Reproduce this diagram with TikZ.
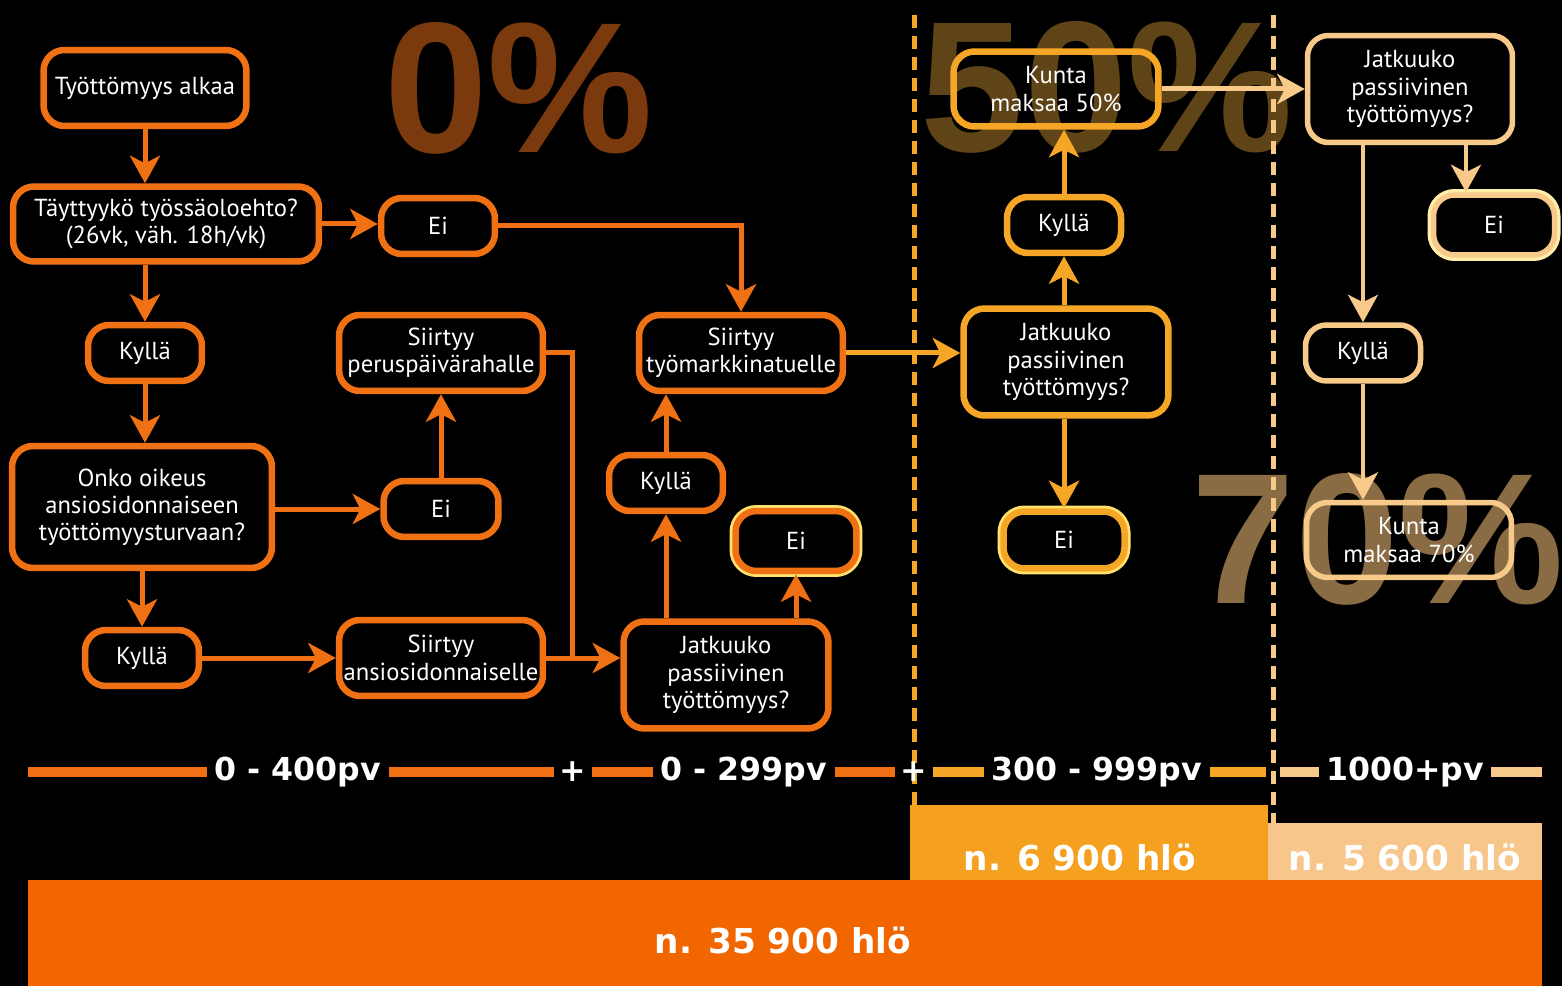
\documentclass[tikz,border=0pt]{standalone}
\usepackage{fontspec}
\setmainfont{PT Sans}
\newfontfamily\barfont{DejaVu Sans}
\newfontfamily\bigfont{Liberation Sans}
\usetikzlibrary{arrows.meta}
\definecolor{ora}{RGB}{240,112,20}
\definecolor{amb}{RGB}{246,166,38}
\definecolor{lgt}{RGB}{248,202,138}
\definecolor{barora}{RGB}{242,102,0}
\definecolor{baramb}{RGB}{245,160,31}
\definecolor{barlgt}{RGB}{247,198,138}
\definecolor{pctzero}{RGB}{122,58,14}
\definecolor{pctfifty}{RGB}{94,68,22}
\definecolor{pctseventy}{RGB}{138,108,68}
\definecolor{glowy}{RGB}{255,226,110}
\definecolor{glowl}{RGB}{255,238,170}
\begin{document}
\begin{tikzpicture}[x=0.02cm,y=-0.02cm,
	box/.style={draw=ora, line width=0.13cm, rounded corners=0.42cm, text=white, align=center,
		font=\fontsize{14}{15.5}\selectfont, inner sep=0pt},
	ambbox/.style={box, draw=amb},
	lgtbox/.style={box, draw=lgt, line width=0.11cm},
	wide/.style={minimum width=4.08cm, minimum height=1.52cm},
	tall/.style={minimum width=4.1cm, minimum height=2.14cm},
	small/.style={minimum width=2.28cm, minimum height=1.12cm},
	glow/.style={fill=black, preaction={draw=#1, line width=0.24cm}, minimum width=2.42cm, minimum height=1.2cm},
	arr/.style={draw=ora, line width=0.1cm, -{Stealth[length=0.55cm, width=0.6cm, inset=0.15cm]}},
	conn/.style={draw=ora, line width=0.1cm},
	sep/.style={line width=0.1cm, dash pattern=on 0.26cm off 0.16cm},
	tl/.style={line width=0.2cm},
	tltext/.style={text=white, font=\barfont\bfseries\fontsize{18}{20}\selectfont, inner sep=0.14cm},
	bartext/.style={text=white, font=\barfont\bfseries\fontsize{19.5}{22}\selectfont},
	pct/.style={anchor=base, font=\bigfont\bfseries\fontsize{106}{114}\selectfont}]
	\fill [black] (0,0) rectangle (1562,986);
	\useasboundingbox (0,0) rectangle (1562,986);

	\node [pct, text=pctzero] (p0) at (519,153) {0\%};
	\node [pct, text=pctfifty] (p50) at (1107,152) {50\%};
	\node [pct, text=pctseventy] (p70) at (1378,603) {70\%};

	\coordinate (s1a) at (914,15);
	\coordinate (s1b) at (914,805);
	\coordinate (s2a) at (1273,15);
	\coordinate (s2b) at (1273,823);
	\draw [sep, amb] (s1a) -- (s1b);
	\draw [sep, lgt] (s2a) -- (s2b);

	\node [box, minimum width=4.06cm, minimum height=1.52cm] (alkaa) at (145,88) {Työttömyys alkaa};
	\node [box, minimum width=6.12cm, minimum height=1.5cm] (ehto) at (166,224) {Täyttyykö työssäoloehto?\\(26vk, väh. 18h/vk)};
	\node [box, small] (ei1) at (438,226) {Ei};
	\node [box, small] (kylla1) at (145,353) {Kyllä};
	\node [box, minimum width=5.2cm, minimum height=2.44cm] (oikeus) at (142,507) {Onko oikeus\\ansiosidonnaiseen\\työttömyysturvaan?};
	\node [box, small, minimum width=2.3cm] (ei2) at (441,509) {Ei};
	\node [box, wide] (perus) at (441,353) {Siirtyy\\peruspäivärahalle};
	\node [box, small] (kylla2) at (142,658) {Kyllä};
	\node [box, wide] (ansio) at (441,658) {Siirtyy\\ansiosidonnaiselle};
	\node [box, tall] (jatk1) at (726,675) {Jatkuuko\\passiivinen\\työttömyys?};
	\node [box, small] (kylla3) at (666,483) {Kyllä};
	\node [box, glow=glowy] (ei3) at (796,541) {Ei};
	\node [box, wide] (tmt) at (741,353) {Siirtyy\\työmarkkinatuelle};
	\node [ambbox, tall] (jatk2) at (1066,362) {Jatkuuko\\passiivinen\\työttömyys?};
	\node [ambbox, glow=glowy, minimum height=1.14cm] (ei4) at (1064,540) {Ei};
	\node [ambbox, small] (kylla4) at (1064,225) {Kyllä};
	\node [ambbox, minimum width=4.1cm, minimum height=1.5cm] (kunta50) at (1056,89) {Kunta\\maksaa 50\%};
	\node [lgtbox, tall] (jatk3) at (1410,89) {Jatkuuko\\passiivinen\\työttömyys?};
	\node [lgtbox, glow=glowl] (ei5) at (1494,225) {Ei};
	\node [lgtbox, small, minimum width=2.3cm] (kylla5) at (1363,353) {Kyllä};
	\node [lgtbox, minimum width=4.1cm, minimum height=1.5cm] (kunta70) at (1409,540) {Kunta\\maksaa 70\%};

	\coordinate (join) at (572,658);
	\coordinate (ei5top) at ([xshift=-0.56cm]ei5.north);
	\draw [arr] (alkaa.south) -- (alkaa.south |- ehto.north);
	\draw [arr] (ehto.east) -- (ehto.east -| ei1.west);
	\draw [arr] (ei1.east) -| (tmt.north);
	\draw [arr] (ehto.south -| kylla1) -- (kylla1.north);
	\draw [arr] (kylla1.south) -- (kylla1.south |- oikeus.north);
	\draw [arr] (oikeus.east |- ei2) -- (ei2.west);
	\draw [arr] (ei2) -- (perus);
	\draw [arr] (oikeus.south -| kylla2) -- (kylla2.north);
	\draw [arr] (kylla2) -- (ansio);
	\draw [arr] (ansio.east) -- (ansio.east -| jatk1.west);
	\draw [conn] (perus.east) -| (join);
	\draw [arr] (jatk1.north -| kylla3) -- (kylla3.south);
	\draw [arr] (kylla3.north) -- (kylla3.north |- tmt.south);
	\draw [arr] (jatk1.north -| ei3) -- (ei3.south);
	\draw [arr, draw=amb] (tmt.east) -- (tmt.east -| jatk2.west);
	\draw [arr, draw=amb] (jatk2.north -| kylla4) -- (kylla4.south);
	\draw [arr, draw=amb] (kylla4) -- (kylla4 |- kunta50.south);
	\draw [arr, draw=amb] (jatk2.south -| ei4) -- (ei4.north);
	\draw [arr, draw=lgt] (kunta50.east) -- (kunta50.east -| jatk3.west);
	\draw [arr, draw=lgt, line width=0.08cm] (ei5top |- jatk3.south) -- (ei5top);
	\draw [arr, draw=lgt, line width=0.08cm] (jatk3.south -| kylla5) -- (kylla5.north);
	\draw [arr, draw=lgt, line width=0.08cm] (kylla5.south) -- (kylla5.south |- kunta70.north);

	\node [tltext] (t1) at (298,772) {0 - 400pv};
	\node [tltext, inner sep=0.1cm] (plus1) at (573,772) {+};
	\node [tltext] (t2) at (744,772) {0 - 299pv};
	\node [tltext, inner sep=0.1cm] (plus2) at (914,772) {+};
	\node [tltext] (t3) at (1097,772) {300 - 999pv};
	\node [tltext] (t4) at (1405,772) {1000+pv};
	\coordinate (tl0) at (28,772);
	\coordinate (tl1) at (1266,772);
	\coordinate (tl2) at (1280,772);
	\coordinate (tl3) at (1542,772);
	\draw [tl, ora] (tl0) -- (t1.west);
	\draw [tl, ora] (t1.east) -- (plus1.west);
	\draw [tl, ora] (plus1.east) -- (t2.west);
	\draw [tl, ora] (t2.east) -- (plus2.west);
	\draw [tl, amb] (plus2.east) -- (t3.west);
	\draw [tl, amb] (t3.east) -- (tl1);
	\draw [tl, lgt] (tl2) -- (t4.west);
	\draw [tl, lgt] (t4.east) -- (tl3);

	\fill [barora] (28,880) rectangle (1542,986);
	\fill [baramb] (910,805) rectangle (1268,880);
	\fill [barlgt] (1268,823) rectangle (1542,880);
	\node [bartext] (n1) at (783,940) {n. 35 900 hlö};
	\node [bartext] (n2) at (1080,857) {n. 6 900 hlö};
	\node [bartext] (n3) at (1405,857) {n. 5 600 hlö};
\end{tikzpicture}
\end{document}
